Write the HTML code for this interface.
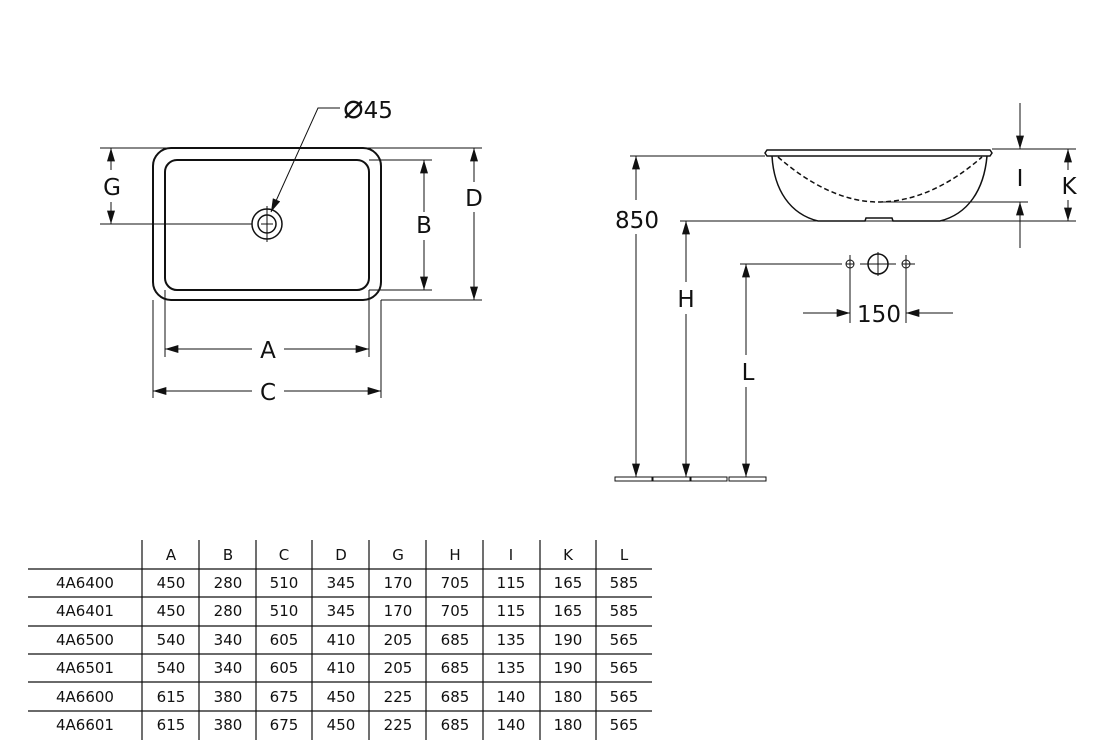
<!DOCTYPE html>
<html><head><meta charset="utf-8"><style>
html,body{margin:0;padding:0;background:#fff;width:1103px;height:752px;overflow:hidden}
svg{display:block}
text{font-family:"DejaVu Sans","Liberation Sans",sans-serif;fill:#111}
.t{font-size:15px;text-anchor:middle}
.l{font-size:23px;text-anchor:middle}
</style></head><body>
<svg width="1103" height="752" viewBox="0 0 1103 752" xmlns="http://www.w3.org/2000/svg">
<defs>
<marker id="a" viewBox="0 0 10 6" refX="10" refY="3" markerWidth="14" markerHeight="8" markerUnits="userSpaceOnUse" orient="auto"><path d="M0,0L10,3L0,6z" fill="#111"/></marker>
</defs>
<g stroke="#111" fill="none" stroke-width="1">
<rect x="153" y="148" width="228" height="152" rx="18" stroke-width="2"/>
<rect x="165" y="160" width="204" height="130" rx="12" stroke-width="2"/>
<circle cx="267" cy="224" r="15" stroke-width="1.5"/>
<circle cx="267" cy="224" r="9" stroke-width="1.5"/>
<line x1="261" y1="224" x2="273" y2="224"/><line x1="267" y1="218" x2="267" y2="230"/>
<line x1="267" y1="206" x2="267" y2="242"/>
<line x1="100" y1="148" x2="482" y2="148"/>
<line x1="100" y1="224" x2="252" y2="224"/>
<line x1="111" y1="170" x2="111" y2="148" marker-end="url(#a)"/>
<line x1="111" y1="202" x2="111" y2="224" marker-end="url(#a)"/>
<line x1="369" y1="160" x2="432" y2="160"/>
<line x1="369" y1="290" x2="432" y2="290"/>
<line x1="381" y1="300" x2="482" y2="300"/>
<line x1="424" y1="212" x2="424" y2="160" marker-end="url(#a)"/>
<line x1="424" y1="240" x2="424" y2="290" marker-end="url(#a)"/>
<line x1="474" y1="182" x2="474" y2="148" marker-end="url(#a)"/>
<line x1="474" y1="212" x2="474" y2="300" marker-end="url(#a)"/>
<line x1="165" y1="290" x2="165" y2="357"/>
<line x1="369" y1="290" x2="369" y2="357"/>
<line x1="153" y1="300" x2="153" y2="398"/>
<line x1="381" y1="300" x2="381" y2="398"/>
<line x1="252" y1="349" x2="165" y2="349" marker-end="url(#a)"/>
<line x1="284" y1="349" x2="369" y2="349" marker-end="url(#a)"/>
<line x1="252" y1="391" x2="153" y2="391" marker-end="url(#a)"/>
<line x1="284" y1="391" x2="381" y2="391" marker-end="url(#a)"/>
<polyline points="340,108 318,108 271,212" marker-end="url(#a)"/>
<path d="M767,150 L990,150 L992,153 L990,156 L767,156 L765,153 Z" stroke-width="1.5"/>
<path d="M772,156 C774,190 790,214 818,221 L865,221 L866,218 L892,218 L893,221 L940,221 C968,214 984,190 987,156" stroke-width="1.5"/>
<path d="M778,157 C810,185 845,202 878,202 C915,202 950,185 982,157" stroke-width="1.5" stroke-dasharray="5,3"/>
<line x1="992" y1="149" x2="1076" y2="149"/>
<line x1="880" y1="202" x2="1028" y2="202"/>
<line x1="680" y1="221" x2="1076" y2="221"/>
<line x1="630" y1="156" x2="765" y2="156"/>
<line x1="1020" y1="103" x2="1020" y2="149" marker-end="url(#a)"/>
<line x1="1020" y1="248" x2="1020" y2="202" marker-end="url(#a)"/>
<line x1="1068" y1="170" x2="1068" y2="149" marker-end="url(#a)"/>
<line x1="1068" y1="200" x2="1068" y2="221" marker-end="url(#a)"/>
<line x1="636" y1="200" x2="636" y2="156" marker-end="url(#a)"/>
<line x1="636" y1="234" x2="636" y2="477" marker-end="url(#a)"/>
<line x1="686" y1="282" x2="686" y2="221" marker-end="url(#a)"/>
<line x1="686" y1="314" x2="686" y2="477" marker-end="url(#a)"/>
<line x1="740" y1="264" x2="842" y2="264"/>
<line x1="746" y1="355" x2="746" y2="264" marker-end="url(#a)"/>
<line x1="746" y1="387" x2="746" y2="477" marker-end="url(#a)"/>
<circle cx="850" cy="264" r="4"/><line x1="846" y1="264" x2="854" y2="264"/><line x1="850" y1="255" x2="850" y2="323"/>
<circle cx="906" cy="264" r="4"/><line x1="902" y1="264" x2="910" y2="264"/><line x1="906" y1="255" x2="906" y2="323"/>
<line x1="910" y1="264" x2="915" y2="264"/>
<circle cx="878" cy="264" r="10" stroke-width="1.5"/>
<line x1="860" y1="264" x2="896" y2="264"/><line x1="878" y1="252" x2="878" y2="276"/>
<line x1="803" y1="313" x2="850" y2="313" marker-end="url(#a)"/>
<line x1="953" y1="313" x2="906" y2="313" marker-end="url(#a)"/>
<rect x="615" y="477" width="37" height="4"/>
<rect x="653" y="477" width="37" height="4"/>
<rect x="691" y="477" width="36" height="4"/>
<rect x="729" y="477" width="37" height="4"/>
<g stroke-width="1.2">
<line x1="28" y1="569" x2="652" y2="569"/>
<line x1="28" y1="597" x2="652" y2="597"/>
<line x1="28" y1="626" x2="652" y2="626"/>
<line x1="28" y1="654" x2="652" y2="654"/>
<line x1="28" y1="682" x2="652" y2="682"/>
<line x1="28" y1="711" x2="652" y2="711"/>
<line x1="142" y1="540" x2="142" y2="740"/>
<line x1="199" y1="540" x2="199" y2="740"/>
<line x1="256" y1="540" x2="256" y2="740"/>
<line x1="312" y1="540" x2="312" y2="740"/>
<line x1="369" y1="540" x2="369" y2="740"/>
<line x1="426" y1="540" x2="426" y2="740"/>
<line x1="483" y1="540" x2="483" y2="740"/>
<line x1="540" y1="540" x2="540" y2="740"/>
<line x1="596" y1="540" x2="596" y2="740"/>
</g>
</g>
<g class="l">
<text x="112" y="195">G</text>
<text x="424" y="233">B</text>
<text x="474" y="206">D</text>
<text x="268" y="358">A</text>
<text x="268" y="400">C</text>
<text x="368" y="118"><tspan font-size="34">⌀</tspan>45</text>
<text x="637" y="228">850</text>
<text x="686" y="307">H</text>
<text x="748" y="380">L</text>
<text x="1020" y="186">I</text>
<text x="1069" y="194">K</text>
<text x="879" y="322">150</text>
</g>
<g class="t">
<text x="171" y="560">A</text><text x="228" y="560">B</text><text x="284" y="560">C</text><text x="341" y="560">D</text><text x="398" y="560">G</text><text x="455" y="560">H</text><text x="511" y="560">I</text><text x="568" y="560">K</text><text x="624" y="560">L</text>
<text x="85" y="588">4A6400</text><text x="171" y="588">450</text><text x="228" y="588">280</text><text x="284" y="588">510</text><text x="341" y="588">345</text><text x="398" y="588">170</text><text x="455" y="588">705</text><text x="511" y="588">115</text><text x="568" y="588">165</text><text x="624" y="588">585</text>
<text x="85" y="616">4A6401</text><text x="171" y="616">450</text><text x="228" y="616">280</text><text x="284" y="616">510</text><text x="341" y="616">345</text><text x="398" y="616">170</text><text x="455" y="616">705</text><text x="511" y="616">115</text><text x="568" y="616">165</text><text x="624" y="616">585</text>
<text x="85" y="645">4A6500</text><text x="171" y="645">540</text><text x="228" y="645">340</text><text x="284" y="645">605</text><text x="341" y="645">410</text><text x="398" y="645">205</text><text x="455" y="645">685</text><text x="511" y="645">135</text><text x="568" y="645">190</text><text x="624" y="645">565</text>
<text x="85" y="673">4A6501</text><text x="171" y="673">540</text><text x="228" y="673">340</text><text x="284" y="673">605</text><text x="341" y="673">410</text><text x="398" y="673">205</text><text x="455" y="673">685</text><text x="511" y="673">135</text><text x="568" y="673">190</text><text x="624" y="673">565</text>
<text x="85" y="702">4A6600</text><text x="171" y="702">615</text><text x="228" y="702">380</text><text x="284" y="702">675</text><text x="341" y="702">450</text><text x="398" y="702">225</text><text x="455" y="702">685</text><text x="511" y="702">140</text><text x="568" y="702">180</text><text x="624" y="702">565</text>
<text x="85" y="730">4A6601</text><text x="171" y="730">615</text><text x="228" y="730">380</text><text x="284" y="730">675</text><text x="341" y="730">450</text><text x="398" y="730">225</text><text x="455" y="730">685</text><text x="511" y="730">140</text><text x="568" y="730">180</text><text x="624" y="730">565</text>
</g>
</svg>
</body></html>
